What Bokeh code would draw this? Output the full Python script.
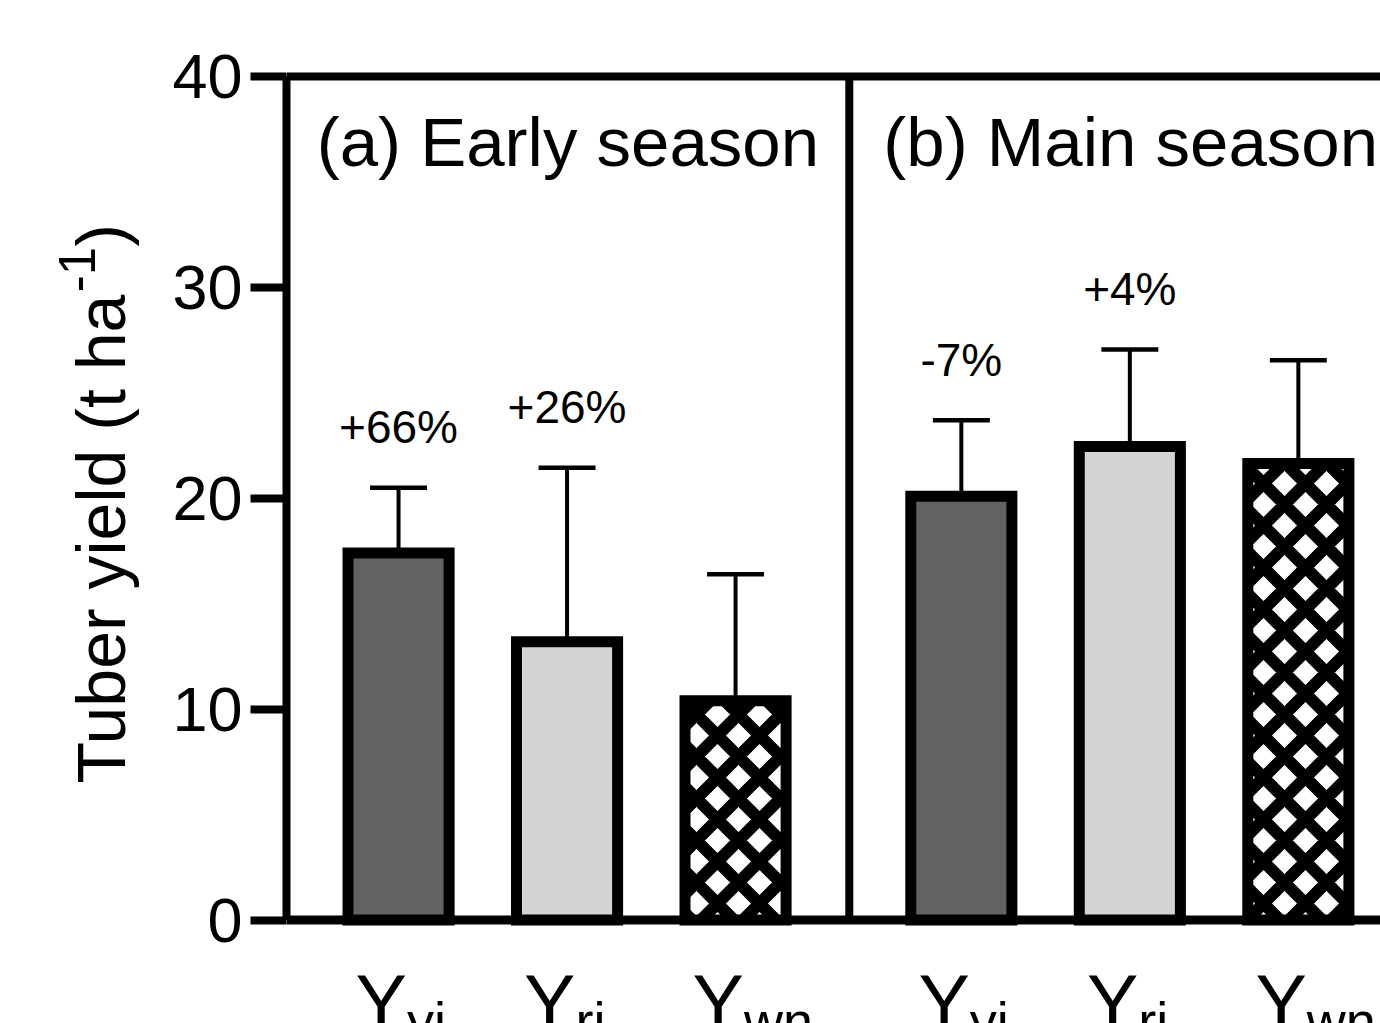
import math
from bokeh.plotting import figure
from bokeh.layouts import row
from bokeh.models import ColumnDataSource, Range1d, Span, FixedTicker
from bokeh.core.properties import value
from bokeh.embed import file_html
from bokeh.resources import INLINE

# ---------------- data ----------------
panels = ["(a) Early season", "(b) Main season"]
categories = ["Y", "Y", "Y"]
subscripts = ["yi", "ri", "wn"]
early_yield = [17.4, 13.2, 10.4]
early_upper = [20.5, 21.45, 16.4]
main_yield = [20.1, 22.45, 21.65]
main_upper = [23.7, 27.05, 26.55]
early_change = ["+66%", "+26%", ""]
main_change = ["-7%", "+4%", ""]
y_ticks = [0, 10, 20, 30, 40]
y_label = ["Tuber yield (t ha", "-1", ")"]

# ---------------- layout constants ----------------
FONT = "Liberation Sans"
PANEL_W = 3.34       # panel width in bar-spacing units
OFFSET = 0.665       # first bar offset from panel edge
BAR_W = 0.6
CAP_W = 0.338
TOTAL_W, H = 1380, 1023
LAB_W = 150
W = TOTAL_W - LAB_W
LEFT, TOP = 136, 60
PX_Y = 21.0875
PX_X = 168.5
X_END = (W - LEFT) / PX_X
Y_END = 40 + 16 / PX_Y
Y_START = Y_END - (H - TOP) / PX_Y
BASE_FIX = 0.37      # baseline correction (em)

fills = ["#626262", "#d4d4d4", "white"]
hatches = ["blank", "blank", "x"]

xs, vals, ups, fc, hp, labs, subs = [], [], [], [], [], [], []
for pi_, (yv, up, ch) in enumerate([(early_yield, early_upper, early_change),
                                    (main_yield, main_upper, main_change)]):
    for i in range(3):
        xs.append(pi_ * PANEL_W + OFFSET + i)
        vals.append(yv[i])
        ups.append(up[i])
        fc.append(fills[i])
        hp.append(hatches[i])
        labs.append(ch[i])
        subs.append(subscripts[i])

PCT_FS = 46
TITLE_FS = 69
src = ColumnDataSource(dict(
    x=xs, top=vals, upper=ups, fill=fc, hatch=hp, lab=labs,
    lab_y=[u + 2.05 + BASE_FIX * PCT_FS / PX_Y for u in ups],
    cap0=[x - CAP_W / 2 for x in xs], cap1=[x + CAP_W / 2 for x in xs],
    cat=[categories[i % 3] for i in range(6)], sub=subs,
    cat_x=[x + 0.05 for x in xs],
))

p = figure(width=W, height=H, output_backend="svg", toolbar_location=None,
           x_range=Range1d(0, X_END), y_range=Range1d(Y_START, Y_END),
           x_axis_location=None, y_axis_location="left",
           min_border_left=LEFT, min_border_right=0,
           min_border_top=TOP, min_border_bottom=0)
p.outline_line_color = None
p.grid.grid_line_color = None
p.background_fill_color = "white"
p.border_fill_color = "white"

ax = p.yaxis[0]
ax.ticker = FixedTicker(ticks=y_ticks)
ax.bounds = (0, 40)
ax.axis_line_width = 8
ax.axis_line_color = "black"
ax.major_tick_line_width = 8
ax.major_tick_line_color = "black"
ax.major_tick_out = 36
ax.major_tick_in = 0
ax.minor_tick_line_color = None
ax.major_label_text_font = FONT
ax.major_label_text_font_size = "63px"
ax.major_label_text_color = "black"
ax.major_label_standoff = 8

# error bars (behind bars)
p.segment(x0="x", y0="top", x1="x", y1="upper", source=src, line_width=4, line_color="black")
p.segment(x0="cap0", y0="upper", x1="cap1", y1="upper", source=src, line_width=4.5, line_color="black")

# bars
p.vbar(x="x", top="top", bottom=0, width=BAR_W, source=src,
       fill_color="fill", line_color="black", line_width=11, line_join="miter",
       hatch_pattern="hatch", hatch_color="black", hatch_weight=12, hatch_scale=42)

# frame lines
p.add_layout(Span(location=0, dimension="width", line_color="black", line_width=9))
p.add_layout(Span(location=40, dimension="width", line_color="black", line_width=8))
p.segment(x0=[PANEL_W], y0=[0], x1=[PANEL_W], y1=[40], line_width=8, line_color="black")

# percentage labels
p.text(x="x", y="lab_y", text="lab", source=src, text_align="center",
       text_baseline="alphabetic", text_font=value(FONT), text_font_size=value(f"{PCT_FS}px"),
       text_color="black")

# panel titles
title_y = 35.64 + BASE_FIX * TITLE_FS / PX_Y
p.text(x=[k * PANEL_W + PANEL_W / 2 for k in range(2)], y=[title_y, title_y], text=panels,
       text_align="center", text_baseline="alphabetic", text_font=value(FONT),
       text_font_size=value(f"{TITLE_FS}px"), text_color="black")

# category labels (cut at bottom)
p.text(x="cat_x", y=-1.85, text="cat", source=src, text_align="right", text_baseline="top",
       text_font=value(FONT), text_font_size=value("77px"), text_color="black")
p.text(x="cat_x", y=-3.38, text="sub", source=src, text_align="left", text_baseline="top",
       text_font=value(FONT), text_font_size=value("54px"), text_color="black")

# ---------------- y axis label panel (pixel coordinates) ----------------
lab = figure(width=LAB_W, height=H, output_backend="svg", toolbar_location=None,
             x_range=Range1d(0, LAB_W), y_range=Range1d(H, TOP),
             x_axis_location=None, y_axis_location=None,
             min_border_left=0, min_border_right=0, min_border_top=TOP, min_border_bottom=0)
lab.outline_line_color = None
lab.grid.grid_line_color = None
lab.background_fill_color = "white"
lab.border_fill_color = "white"

main_fs, sup_fs = 68, 51
start_y = 783
end_main = start_y - 7.225 * main_fs
end_sup = end_main - 0.889 * sup_fs
lab.text(x=[126 - BASE_FIX * main_fs], y=[start_y], text=[y_label[0]], angle=math.pi / 2,
         text_align="left", text_baseline="alphabetic", text_font=value(FONT),
         text_font_size=value(f"{main_fs}px"), text_color="black")
lab.text(x=[95 - BASE_FIX * sup_fs], y=[end_main], text=[y_label[1]], angle=math.pi / 2,
         text_align="left", text_baseline="alphabetic", text_font=value(FONT),
         text_font_size=value(f"{sup_fs}px"), text_color="black")
lab.text(x=[126 - BASE_FIX * main_fs], y=[end_sup], text=[y_label[2]], angle=math.pi / 2,
         text_align="left", text_baseline="alphabetic", text_font=value(FONT),
         text_font_size=value(f"{main_fs}px"), text_color="black")

layout = row(lab, p)
open("out.html", "w").write(file_html(layout, INLINE))
